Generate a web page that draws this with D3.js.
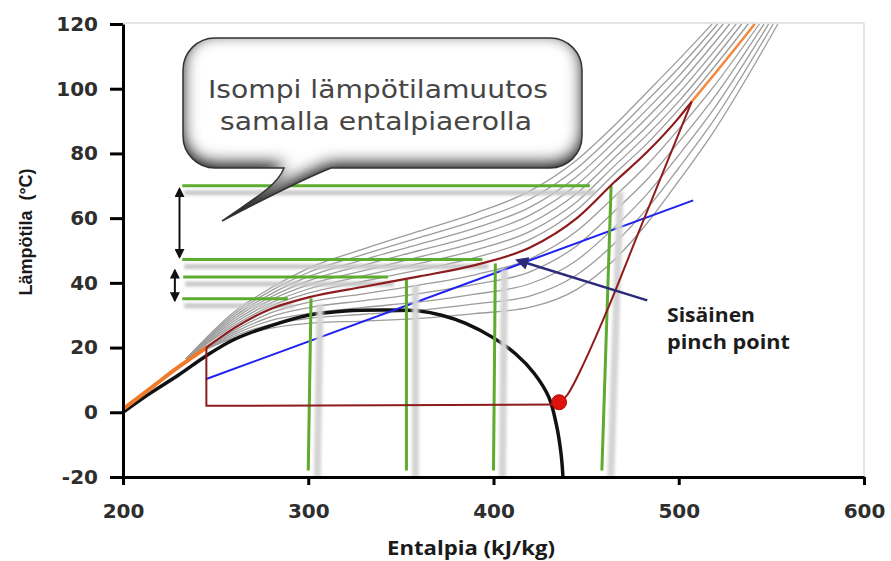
<!DOCTYPE html>
<html>
<head>
<meta charset="utf-8">
<script src="https://cdn.jsdelivr.net/npm/d3@7"></script>
<style>
  body { margin: 0; background: #fff; }
  svg { display: block; }
</style>
</head>
<body>
<svg id="chart" width="891" height="561"></svg>
<script>
// axis ticks
const xTicks = [200, 300, 400, 500, 600];
const yTicks = [-20, 0, 20, 40, 60, 80, 100, 120];

// saturation dome (black)
const saturationDome = [[200, 0], [215, 6], [230, 11.5], [245, 17.5], [260, 22.5], [280, 26.8], [300, 30],
  [320, 31.3], [340, 31.6], [360, 31.3], [372, 30], [385, 27.5], [400, 23], [412, 18], [422, 12],
  [430, 4.5], [434, -4], [436.5, -13], [437.5, -20]];

// heat sink curve (orange), lower and upper visible parts
const orangeLow = [[200, 1], [215, 7.5], [230, 14], [245, 20]];
const orangeHigh = [[507, 96], [520, 105], [532, 113.5], [541, 120]];

// condensing side of cycle (dark red)
const redCurve = [[245, 20], [260, 26], [280, 32], [300, 35.5], [330, 38.8], [360, 42], [390, 45.5],
  [420, 51], [445, 60], [465, 71], [483, 80.5], [500, 91], [507, 96]];
// compression from the dot to the top, then evaporation and expansion
const compression = [[507, 96], [480, 58], [461, 31], [447, 13], [440, 5.5], [435.4, 2.6]];
const expansion = [[435.4, 2.4], [245, 2], [245, 20]];
const pinchDot = [435.4, 3.1];

// heat source line (blue)
const blueLine = [[244.6, 10.2], [507.8, 65.5]];

// family of gray curves
const grayCurves = [
  [[234, 16.5], [260, 31], [280, 38.5], [300, 44.5], [330, 50.5], [360, 56], [390, 61.5], [420, 68.5], [445, 78], [465, 88.5], [483, 99], [500, 109], [518, 120]],
  [[234, 16.5], [260, 30.3], [280, 37.6], [300, 43.2], [330, 48.8], [360, 54], [390, 59.2], [420, 66], [445, 75.4], [465, 86], [483, 96.4], [500, 106.4], [521, 120]],
  [[234, 16.5], [260, 29.6], [280, 36.6], [300, 41.9], [330, 47.2], [360, 52], [390, 56.9], [420, 63.5], [445, 72.9], [465, 83.5], [483, 93.7], [500, 103.9], [524, 120]],
  [[234, 16.5], [260, 28.9], [280, 35.7], [300, 40.6], [330, 45.5], [360, 50], [390, 54.6], [420, 61], [445, 70.3], [465, 81], [483, 91.1], [500, 101.3], [527.5, 120]],
  [[234, 16.5], [260, 28.2], [280, 34.8], [300, 39.4], [330, 43.8], [360, 48], [390, 52.4], [420, 58.5], [445, 67.7], [465, 78.5], [483, 88.4], [500, 98.7], [531, 120]],
  [[234, 16.5], [260, 27.5], [280, 33.8], [300, 38.1], [330, 42.2], [360, 46], [390, 50.1], [420, 56], [445, 65.1], [465, 76], [483, 85.8], [500, 96.1], [534, 120]],
  [[234, 16.5], [260, 26.8], [280, 32.9], [300, 36.8], [330, 40.5], [360, 44], [390, 47.8], [420, 53.5], [445, 62.6], [465, 73.5], [483, 83.1], [500, 93.6], [537.5, 120]],
  [[234, 16.5], [260, 25.3], [280, 30.8], [300, 34], [330, 36.6], [360, 39.3], [390, 42.5], [420, 47.5], [445, 56], [465, 66.5], [483, 76.5], [500, 87.5], [518, 100], [543.5, 120]],
  [[234, 16.5], [260, 24.7], [280, 29.6], [300, 32.3], [330, 34.5], [360, 36.7], [390, 39.5], [420, 43.5], [445, 51.5], [465, 62], [483, 72], [500, 83.5], [518, 96.5], [546, 120]],
  [[234, 16.5], [260, 24.1], [280, 28.4], [300, 30.5], [330, 32.4], [360, 34.1], [390, 36.5], [420, 39.8], [445, 47], [465, 57], [483, 67.5], [500, 79.5], [518, 93], [548.5, 120]],
  [[234, 16.5], [260, 23.5], [280, 27.2], [300, 29], [330, 30.3], [360, 31.5], [390, 33.5], [420, 36], [445, 42.5], [465, 52], [483, 63], [500, 75.5], [518, 89.5], [551, 120]],
  [[234, 16.5], [260, 23], [280, 26], [300, 27.5], [330, 28.2], [360, 29], [390, 30.5], [420, 32.5], [445, 38], [465, 47], [483, 58.5], [500, 71.5], [518, 86], [553.5, 120]]
];

// green construction lines: temperature levels and enthalpy drops
const levelT = [70, 47.2, 41.8, 35.1];
const levelStart = [232, 232, 232.5, 232];
const levelEnd = [452, 394, 343, 289];
const dropTop = [[301.5, 35.2], [353, 41], [401, 46], [463.5, 70]];
const dropBottomH = [300, 353, 400, 458.5];
const dropBottomT = -18;

// double arrows beside the levels
const arrowSpans = [[230.5, 69, 48], [228, 43.8, 34.6]];
// pointer to the internal pinch point
const pinchPointer = [[483, 34.6], [413, 47]];

const svg = d3.select("#chart");
const margin = { left: 123, right: 27, top: 24, bottom: 84 };
const W = 891, H = 561;

const x = d3.scaleLinear().domain([200, 600]).range([margin.left, W - margin.right]);
const y = d3.scaleLinear().domain([-20, 120]).range([H - margin.bottom, margin.top]);

const defs = svg.append("defs");

// inner shadow for the callout
const bevel = defs.append("filter").attr("id", "bevel")
  .attr("x", "-10%").attr("y", "-10%").attr("width", "120%").attr("height", "120%");
bevel.append("feFlood").attr("flood-color", "#1e1e1e").attr("result", "c");
bevel.append("feComposite").attr("in", "c").attr("in2", "SourceAlpha").attr("operator", "out").attr("result", "outside");
bevel.append("feGaussianBlur").attr("in", "outside").attr("stdDeviation", 8).attr("result", "blur");
bevel.append("feOffset").attr("in", "blur").attr("dy", -5).attr("result", "off");
bevel.append("feComposite").attr("in", "off").attr("in2", "SourceAlpha").attr("operator", "in").attr("result", "inner");
const bm = bevel.append("feMerge");
bm.append("feMergeNode").attr("in", "SourceGraphic");
bm.append("feMergeNode").attr("in", "inner");
bm.append("feMergeNode").attr("in", "inner");

const soft = defs.append("filter").attr("id", "soft");
soft.append("feGaussianBlur").attr("stdDeviation", 1.6);

// arrow heads
function marker(id, color, size) {
  defs.append("marker").attr("id", id)
    .attr("viewBox", "0 0 10 10").attr("refX", 8).attr("refY", 5)
    .attr("markerWidth", size).attr("markerHeight", size)
    .attr("orient", "auto-start-reverse").attr("markerUnits", "userSpaceOnUse")
    .append("path").attr("d", "M0,0 L10,5 L0,10 Z").attr("fill", color);
}
marker("headBlack", "#111", 10);
marker("headNavy", "#2b2b7a", 13);

const line = d3.line().x(d => x(d[0])).y(d => y(d[1]));
const smooth = d3.line().x(d => x(d[0])).y(d => y(d[1])).curve(d3.curveMonotoneX);
const catmull = d3.line().x(d => x(d[0])).y(d => y(d[1])).curve(d3.curveCatmullRom);

// frame
svg.append("line").attr("x1", x(200)).attr("x2", x(600)).attr("y1", y(120) - 1).attr("y2", y(120) - 1)
  .attr("stroke", "#dcdcdc").attr("stroke-width", 1.5);
svg.append("line").attr("x1", x(600)).attr("x2", x(600)).attr("y1", y(120) - 1).attr("y2", y(-20))
  .attr("stroke", "#dcdcdc").attr("stroke-width", 1.5);

// gray curves
svg.append("g").selectAll("path").data(grayCurves).enter().append("path")
  .attr("d", smooth).attr("fill", "none").attr("stroke", "#9c9c9c").attr("stroke-width", 1.3);

// saturation dome
svg.append("path").attr("d", catmull(saturationDome))
  .attr("fill", "none").attr("stroke", "#111").attr("stroke-width", 3.5);

// blue line
svg.append("path").attr("d", line(blueLine)).attr("stroke", "#1e22f0").attr("stroke-width", 2).attr("fill", "none");

// shadows of the green lines
const shadows = svg.append("g").attr("filter", "url(#soft)");
levelT.forEach((t, i) => {
  shadows.append("line").attr("x1", x(levelStart[i]) + 2).attr("x2", x(levelEnd[i]) + 6)
    .attr("y1", y(t) + 7).attr("y2", y(t) + 7).attr("stroke", "#c8c8c8").attr("stroke-width", 5);
});
dropTop.forEach((d, i) => {
  shadows.append("line").attr("x1", x(d[0]) + 9).attr("x2", x(dropBottomH[i]) + 9)
    .attr("y1", y(d[1]) + 6).attr("y2", y(-20)).attr("stroke", "#d4d4d4").attr("stroke-width", 7);
});

// green lines
const green = svg.append("g").attr("stroke", "#5dab2f").attr("stroke-width", 3);
levelT.forEach((t, i) => {
  green.append("line").attr("x1", x(levelStart[i])).attr("x2", x(levelEnd[i]))
    .attr("y1", y(t)).attr("y2", y(t));
});
dropTop.forEach((d, i) => {
  green.append("line").attr("x1", x(d[0])).attr("x2", x(dropBottomH[i]))
    .attr("y1", y(d[1])).attr("y2", y(dropBottomT));
});

// orange curve
svg.append("path").attr("d", smooth(orangeLow)).attr("fill", "none").attr("stroke", "#f07a2a").attr("stroke-width", 4);
svg.append("path").attr("d", smooth(orangeHigh)).attr("fill", "none").attr("stroke", "#f5873a").attr("stroke-width", 2.5);

// cycle
svg.append("path").attr("d", smooth(redCurve)).attr("fill", "none").attr("stroke", "#8e1c1c").attr("stroke-width", 2.2);
svg.append("path").attr("d", catmull(compression)).attr("fill", "none").attr("stroke", "#8e1c1c").attr("stroke-width", 2);
svg.append("path").attr("d", line(expansion)).attr("fill", "none").attr("stroke", "#8e1c1c").attr("stroke-width", 2);
svg.append("circle").attr("cx", x(pinchDot[0])).attr("cy", y(pinchDot[1])).attr("r", 7.5)
  .attr("fill", "#e0120c").attr("stroke", "#b00a06").attr("stroke-width", 1);

// pointer
svg.append("path").attr("d", line(pinchPointer)).attr("stroke", "#2b2b7a").attr("stroke-width", 2.5)
  .attr("fill", "none").attr("marker-end", "url(#headNavy)");

// double arrows
arrowSpans.forEach(a => {
  svg.append("line").attr("x1", x(a[0])).attr("x2", x(a[0])).attr("y1", y(a[1])).attr("y2", y(a[2]))
    .attr("stroke", "#111").attr("stroke-width", 2)
    .attr("marker-start", "url(#headBlack)").attr("marker-end", "url(#headBlack)");
});

// callout bubble
const bx0 = 183, bx1 = 582, by0 = 38, by1 = 168, r = 32;
const bubblePath = `M${bx0 + r},${by0} H${bx1 - r} A${r},${r} 0 0 1 ${bx1},${by0 + r} V${by1 - r}
  A${r},${r} 0 0 1 ${bx1 - r},${by1} H331 C306,178 262,200 222,221 C255,198 277,186 284,${by1}
  H${bx0 + r} A${r},${r} 0 0 1 ${bx0},${by1 - r} V${by0 + r} A${r},${r} 0 0 1 ${bx0 + r},${by0} Z`;
svg.append("path").attr("d", bubblePath).attr("fill", "#fff").attr("filter", "url(#bevel)");
svg.append("path").attr("d", bubblePath).attr("fill", "none").attr("stroke", "#333").attr("stroke-width", 1.5);

svg.append("text").attr("x", 378).attr("y", 98).attr("text-anchor", "middle")
  .attr("font-family", "'DejaVu Sans', sans-serif").attr("font-size", 24).attr("fill", "#464646")
  .attr("textLength", 340).attr("lengthAdjust", "spacingAndGlyphs").text("Isompi lämpötilamuutos");
svg.append("text").attr("x", 376).attr("y", 130).attr("text-anchor", "middle")
  .attr("font-family", "'DejaVu Sans', sans-serif").attr("font-size", 24).attr("fill", "#464646")
  .attr("textLength", 312).attr("lengthAdjust", "spacingAndGlyphs").text("samalla entalpiaerolla");

// pinch point label, two lines
svg.append("text").attr("x", 667).attr("y", 322)
  .attr("font-family", "'Open Sans', sans-serif").attr("font-weight", 700).attr("font-size", 19)
  .attr("fill", "#1c1c1c").attr("textLength", 88).attr("lengthAdjust", "spacingAndGlyphs").text("Sisäinen");
svg.append("text").attr("x", 667).attr("y", 349)
  .attr("font-family", "'Open Sans', sans-serif").attr("font-weight", 700).attr("font-size", 19)
  .attr("fill", "#1c1c1c").attr("textLength", 123).attr("lengthAdjust", "spacingAndGlyphs").text("pinch point");

// axes
const xAxis = svg.append("g").attr("transform", `translate(0,${y(-20)})`)
  .call(d3.axisBottom(x).tickValues(xTicks).tickSize(8).tickSizeOuter(0).tickPadding(19).tickFormat(d => String(d)));
const yAxis = svg.append("g").attr("transform", `translate(${x(200)},0)`)
  .call(d3.axisLeft(y).tickValues(yTicks).tickSize(13).tickSizeOuter(0).tickPadding(12).tickFormat(d => String(d)));

[xAxis, yAxis].forEach(g => {
  g.select(".domain").attr("stroke", "#000").attr("stroke-width", 3);
  g.selectAll(".tick line").attr("stroke", "#000").attr("stroke-width", 3);
  g.selectAll(".tick text").attr("font-family", "'DejaVu Sans', sans-serif").attr("font-weight", 700)
    .attr("font-size", 20).attr("fill", "#2e2e2e");
});

svg.append("text").attr("x", 471).attr("y", 555).attr("text-anchor", "middle")
  .attr("font-family", "'Open Sans', sans-serif").attr("font-weight", 700).attr("font-size", 20)
  .attr("fill", "#1a1a1a").attr("textLength", 168).attr("lengthAdjust", "spacingAndGlyphs")
  .text("Entalpia (kJ/kg)");
svg.append("text").attr("transform", "translate(32,232) rotate(-90)").attr("text-anchor", "middle")
  .attr("font-family", "'Liberation Sans', sans-serif").attr("font-weight", 700).attr("font-size", 18)
  .attr("fill", "#1a1a1a").attr("xml:space", "preserve").text("Lämpötila  (°C)");
</script>
</body>
</html>
